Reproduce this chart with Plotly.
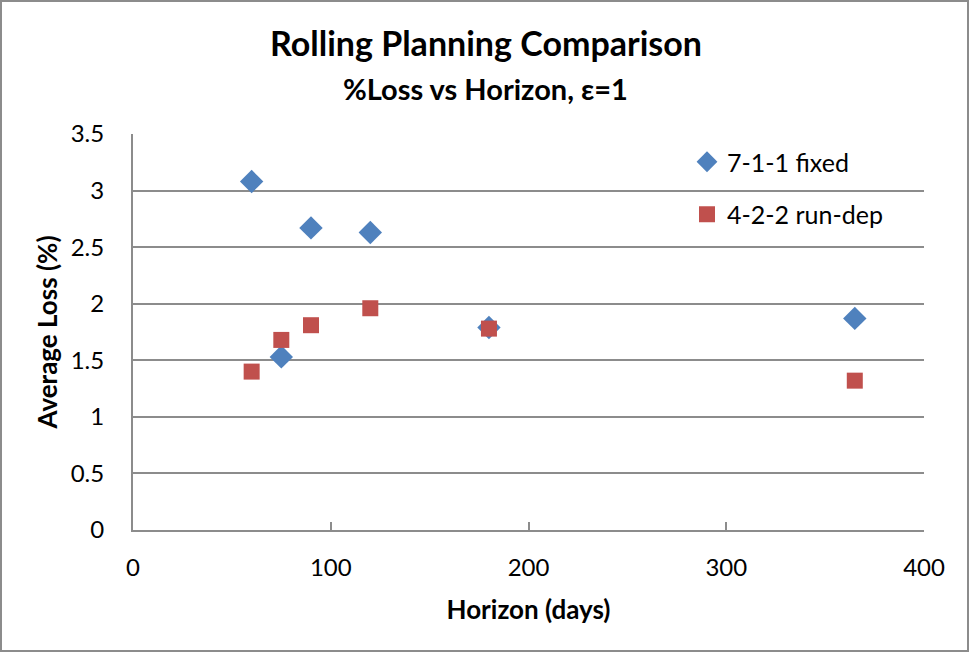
import plotly.graph_objects as go

# Data
horizonDays = [60, 75, 90, 120, 180, 365]
lossFixed = [3.08, 1.53, 2.67, 2.63, 1.79, 1.87]
lossRunDep = [1.40, 1.68, 1.81, 1.96, 1.78, 1.32]
yTicks = [0, 0.5, 1, 1.5, 2, 2.5, 3, 3.5]
xTicks = [0, 100, 200, 300, 400]

FONT = "Lato"
GRID = "#8c8c8c"

# plot area in pixels
L, R, T, B = 133, 924, 134, 530
PW, PH = R - L, B - T

def px(x):
    return (x - L) / PW

def py(y):
    return (B - y) / PH

fig = go.Figure()
fig.add_trace(go.Scatter(x=horizonDays, y=lossFixed, mode="markers", name="7-1-1 fixed",
                         legendgroup="a",
                         marker=dict(symbol="diamond", size=18, color="#4F81BD")))
fig.add_trace(go.Scatter(x=horizonDays, y=lossRunDep, mode="markers", name="4-2-2 run-dep",
                         legendgroup="b",
                         marker=dict(symbol="square", size=16, color="#C0504D")))

fig.update_layout(
    width=970, height=653,
    margin=dict(l=L, r=970 - R, t=T, b=653 - B),
    paper_bgcolor="white", plot_bgcolor="white",
    font=dict(family=FONT, size=24, color="black"),
    showlegend=True,
    legend=dict(x=px(687), y=py(139), xanchor="left", yanchor="top",
                bgcolor="rgba(0,0,0,0)", font=dict(size=25), itemsizing="trace",
                tracegroupgap=17),
    shapes=[dict(type="rect", xref="paper", yref="paper",
                 x0=px(1), x1=px(968), y0=py(651), y1=py(1),
                 line=dict(color=GRID, width=2))],
    annotations=[
        dict(text="<b>Rolling Planning Comparison</b>", x=px(486), y=py(42),
             xref="paper", yref="paper", xanchor="center", yanchor="middle",
             showarrow=False, font=dict(size=34)),
        dict(text="<b>%Loss vs Horizon, ε=1</b>", x=px(485), y=py(88),
             xref="paper", yref="paper", xanchor="center", yanchor="middle",
             showarrow=False, font=dict(size=29)),
    ],
)

fig.update_xaxes(range=[0, 400], tickvals=xTicks, showgrid=False, zeroline=False,
                 showline=True, linecolor=GRID, linewidth=2, mirror=False,
                 ticks="inside", ticklen=8, tickcolor=GRID, tickwidth=2,
                 tickfont=dict(size=24), ticklabelstandoff=15,
                 title=dict(text="<b>Horizon (days)</b>", font=dict(size=26), standoff=21))
fig.update_yaxes(range=[0, 3.5], tickvals=yTicks, showgrid=True, gridcolor=GRID, gridwidth=2,
                 zeroline=False, showline=True, linecolor=GRID, linewidth=2,
                 ticks="", tickfont=dict(size=24), ticklabelstandoff=22,
                 title=dict(text="<b>Average Loss (%)</b>", font=dict(size=26), standoff=6))

fig.write_html("out.html", config={"displayModeBar": False},
               post_script="document.body.style.margin='0';document.body.style.overflow='hidden';")
